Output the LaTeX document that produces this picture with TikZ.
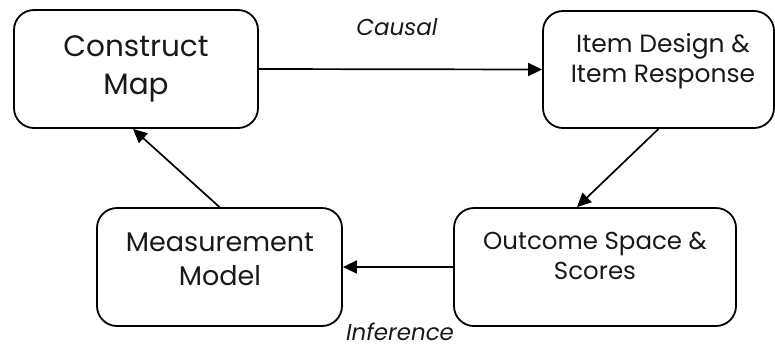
\documentclass[tikz,border=0pt]{standalone}
\usepackage{fontspec}
\setmainfont{Poppins}
\usetikzlibrary{arrows.meta}
\begin{document}
\begin{tikzpicture}[x=1pt,y=-1pt,
  box/.style={draw=black, line width=1.8pt, rounded corners=20pt, fill=white,
    inner sep=0pt},
  boxtext/.style={anchor=north, inner sep=0pt, align=center, text=black!90},
  edgelabel/.style={inner sep=0pt, font=\itshape\fontsize{23}{26}\selectfont, text=black!90},
  flow/.style={line width=1.7pt, -{Triangle[length=14pt,width=13pt]}}]
\useasboundingbox (0,0) rectangle (775,349);

% the four stages of the cycle
\node[box, minimum width=244pt, minimum height=118pt] (cmap) at (136,69) {};
\node[box, minimum width=231pt, minimum height=117pt] (item) at (658.5,69.5) {};
\node[box, minimum width=245pt, minimum height=118pt] (meas) at (219.5,267) {};
\node[box, minimum width=282pt, minimum height=118pt] (outc) at (595,267) {};

\node[boxtext, font=\fontsize{29.5}{38}\selectfont] (cmapt) at (136,35) {Construct\\Map};
\node[boxtext, font=\fontsize{25}{30}\selectfont] (itemt) at (663,33) {Item Design \&\\Item Response};
\node[boxtext, font=\fontsize{27}{34}\selectfont] (meast) at (220,233) {Measurement\\Model};
\node[boxtext, font=\fontsize{24.5}{30}\selectfont] (outct) at (595,232) {Outcome Space \&\\Scores};

% connectors
\draw[flow] (cmap.east) -- (item.west);
\draw[flow] (item.south) -- ([xshift=-18pt]outc.north);
\draw[flow] (outc.west) -- (meas.east);
\draw[flow] (meas.north) -- ([xshift=-3pt]cmap.south);

% edge labels
\node[edgelabel, anchor=north] (causal) at (397,18) {Causal};
\node[edgelabel, anchor=base, text depth=0pt] (infer) at (400,340) {Inference};
\end{tikzpicture}
\end{document}
